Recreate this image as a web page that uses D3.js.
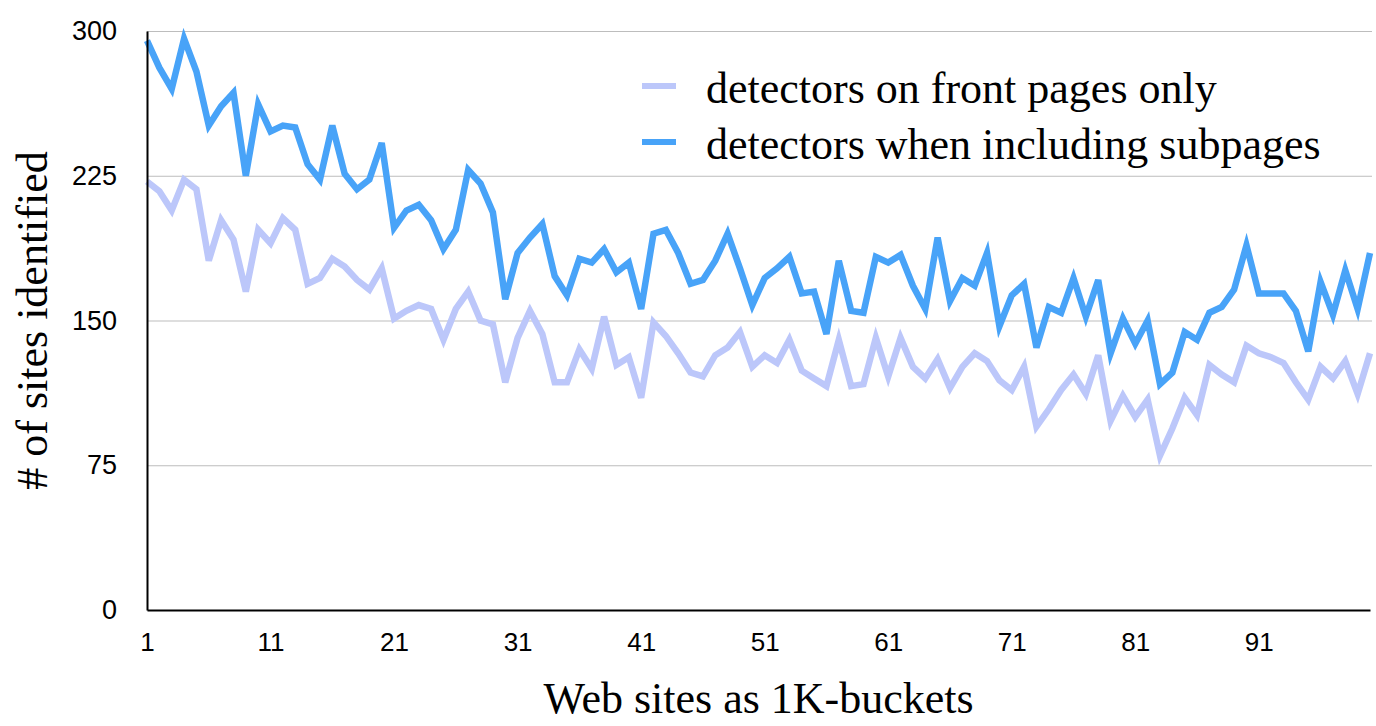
<!DOCTYPE html>
<html>
<head>
<meta charset="utf-8">
<script src="https://cdn.jsdelivr.net/npm/d3@7"></script>
<style>
  html, body { margin: 0; padding: 0; background: #fff; }
  svg { display: block; }
</style>
</head>
<body>
<div id="chart"></div>
<script>
// buckets 1..100
const buckets = d3.range(1, 101);

// detectors when including subpages
const subpages = [
  295, 281, 270, 296, 279, 251, 261, 268, 225, 262,
  248, 251, 250, 231, 223, 251, 226, 218, 223, 242,
  198, 207, 210, 202, 187, 197, 228, 221, 206, 161,
  185, 193, 200, 173, 163, 182, 180, 187, 175, 180,
  156, 195, 197, 185, 169, 171, 181, 195, 177, 158,
  172, 177, 183, 164, 165, 143, 181, 155, 154, 183,
  180, 184, 168, 156, 193, 160, 172, 168, 185, 147,
  163, 169, 136, 157, 154, 172, 152, 171, 133, 151,
  138, 150, 117, 123, 144, 140, 154, 157, 166, 189,
  164, 164, 164, 155, 134, 170, 153, 176, 156, 185
];

// detectors on front pages only
const frontPages = [
  222, 217, 207, 223, 218, 181, 202, 192, 165, 197,
  190, 203, 197, 169, 172, 182, 178, 171, 166, 177,
  151, 155, 158, 156, 140, 156, 165, 150, 148, 118,
  141, 155, 143, 118, 118, 135, 125, 152, 127, 131,
  110, 149, 142, 133, 123, 121, 132, 136, 144, 126,
  132, 128, 140, 124, 120, 116, 140, 116, 117, 141,
  121, 141, 126, 120, 130, 115, 126, 133, 129, 119,
  114, 126, 95, 104, 114, 122, 112, 132, 98, 111,
  100, 109, 80, 94, 110, 101, 127, 122, 118, 137,
  133, 131, 128, 118, 109, 126, 120, 129, 112, 133
];

const yTicks = [0, 75, 150, 225, 300];
const xTicks = [1, 11, 21, 31, 41, 51, 61, 71, 81, 91];

const seriesNames = ["detectors on front pages only", "detectors when including subpages"];
const seriesColors = ["#bcc7fa", "#48a3f8"];

const width = 1376, height = 726;
const plotLeft = 147, plotRight = 1370, plotTop = 31, plotBottom = 610;

const svg = d3.select("#chart")
  .append("svg")
  .attr("width", width)
  .attr("height", height);

const x = d3.scaleLinear().domain([1, 100]).range([plotLeft, plotRight]);
const y = d3.scaleLinear().domain([0, 300]).range([plotBottom, plotTop]);

// gridlines
svg.append("g")
  .selectAll("line")
  .data(yTicks.filter((d) => d > 0))
  .enter()
  .append("line")
  .attr("x1", plotLeft)
  .attr("x2", plotRight + 2)
  .attr("y1", (d) => y(d) + 0.5)
  .attr("y2", (d) => y(d) + 0.5)
  .attr("stroke", "#bdbdbd")
  .attr("stroke-width", 1);

// lines
const line = d3.line()
  .x((d, i) => x(buckets[i]))
  .y((d) => y(d));

[frontPages, subpages].forEach((vals, k) => {
  svg.append("path")
    .datum(vals)
    .attr("fill", "none")
    .attr("stroke", seriesColors[k])
    .attr("stroke-width", 6.5)
    .attr("stroke-linejoin", "miter")
    .attr("d", line);
});

// y axis
const yAxis = svg.append("g")
  .attr("transform", `translate(${plotLeft},0)`)
  .call(d3.axisLeft(y).tickValues(yTicks).tickSize(0).tickPadding(30));
yAxis.select(".domain").attr("stroke", "#000").attr("stroke-width", 2);
yAxis.selectAll("text")
  .attr("font-family", "Liberation Sans, Arial, sans-serif")
  .attr("font-size", 27)
  .attr("fill", "#000");

// x axis
const xAxis = svg.append("g")
  .attr("transform", `translate(0,${plotBottom})`)
  .call(d3.axisBottom(x).tickValues(xTicks).tickSize(0).tickPadding(23));
xAxis.select(".domain").attr("stroke", "#000").attr("stroke-width", 2);
xAxis.selectAll("text")
  .attr("font-family", "Liberation Sans, Arial, sans-serif")
  .attr("font-size", 26)
  .attr("fill", "#000");

// axis titles
svg.append("text")
  .attr("x", (plotLeft + plotRight) / 2)
  .attr("y", 713)
  .attr("text-anchor", "middle")
  .attr("font-family", "Liberation Serif, Times New Roman, serif")
  .attr("font-size", 44)
  .text("Web sites as 1K-buckets");

svg.append("text")
  .attr("transform", "rotate(-90)")
  .attr("x", -(plotTop + plotBottom) / 2)
  .attr("y", 47)
  .attr("text-anchor", "middle")
  .attr("font-family", "Liberation Serif, Times New Roman, serif")
  .attr("font-size", 44)
  .text("# of sites identified");

// legend
const legend = svg.append("g");
seriesNames.forEach((name, k) => {
  const ly = 86 + k * 56;
  legend.append("line")
    .attr("x1", 642)
    .attr("x2", 676)
    .attr("y1", ly)
    .attr("y2", ly)
    .attr("stroke", seriesColors[k])
    .attr("stroke-width", 6);
  legend.append("text")
    .attr("x", 706)
    .attr("y", ly + 17)
    .attr("font-family", "Liberation Serif, Times New Roman, serif")
    .attr("font-size", 44)
    .text(name);
});
</script>
</body>
</html>
